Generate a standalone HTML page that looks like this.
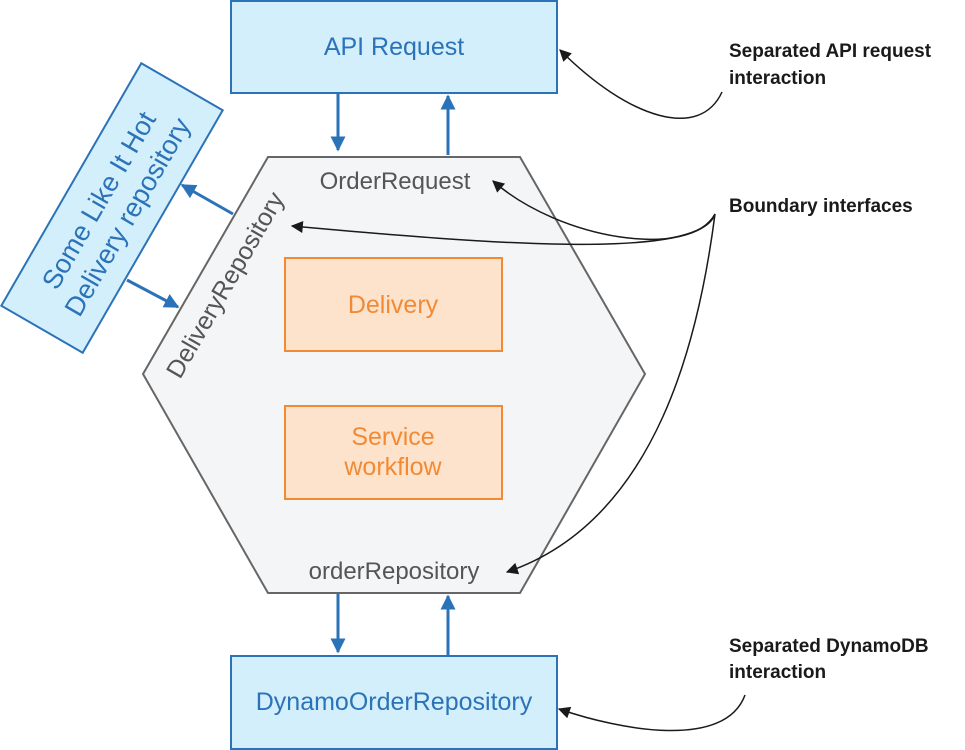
<!DOCTYPE html>
<html><head><meta charset="utf-8"><style>
body{margin:0;background:#fff}
svg{display:block}
.b{font-family:"Liberation Sans",sans-serif;fill:#2b73b8;font-size:25px}
.g{font-family:"Liberation Sans",sans-serif;fill:#555;font-size:24px}
.o{font-family:"Liberation Sans",sans-serif;fill:#f28a35;font-size:25px}
.n{font-family:"Liberation Sans Narrow","Liberation Sans",sans-serif;fill:#1a1a1a;font-size:19px;font-weight:bold}
</style></head><body>
<svg width="965" height="750" viewBox="0 0 965 750" xmlns="http://www.w3.org/2000/svg">
<defs>
<marker id="ab" viewBox="0 0 10 10" refX="9" refY="5" markerWidth="5" markerHeight="5" orient="auto"><path d="M0,0L10,5L0,10z" fill="#2b73b8"/></marker>
<marker id="ak" viewBox="0 0 10 10" refX="9" refY="5" markerWidth="14" markerHeight="12" markerUnits="userSpaceOnUse" orient="auto"><path d="M0,0L10,5L0,10z" fill="#1a1a1a"/></marker>
</defs>
<polygon points="268,157 520,157 645,374 520,593 268,593 143,374" fill="#f4f5f7" stroke="#666" stroke-width="2"/>
<rect x="231" y="1" width="326" height="92" fill="#d4effc" stroke="#2b73b8" stroke-width="2"/>
<text class="b" x="394" y="55" text-anchor="middle">API Request</text>
<rect x="231" y="656" width="326" height="93" fill="#d4effc" stroke="#2b73b8" stroke-width="2"/>
<text class="b" x="394" y="710" text-anchor="middle">DynamoOrderRepository</text>
<g transform="translate(112,208) rotate(-60)">
<rect x="-140" y="-47" width="280" height="94" fill="#d4effc" stroke="#2b73b8" stroke-width="2"/>
<text class="b" x="0" y="-6" text-anchor="middle" style="font-size:27px">Some Like It Hot</text>
<text class="b" x="0" y="27" text-anchor="middle" style="font-size:27px">Delivery repository</text>
</g>
<rect x="285" y="258" width="217" height="93" fill="#fde3cc" stroke="#f28a35" stroke-width="2"/>
<text class="o" x="393" y="313" text-anchor="middle">Delivery</text>
<rect x="285" y="406" width="217" height="93" fill="#fde3cc" stroke="#f28a35" stroke-width="2"/>
<text class="o" x="393" y="445" text-anchor="middle">Service</text>
<text class="o" x="393" y="475" text-anchor="middle">workflow</text>
<text class="g" x="395" y="189" text-anchor="middle">OrderRequest</text>
<text class="g" x="394" y="579" text-anchor="middle">orderRepository</text>
<text class="g" transform="translate(180,380) rotate(-60)" style="font-size:25px">DeliveryRepository</text>
<g stroke="#2b73b8" stroke-width="3" fill="none">
<line x1="338" y1="94" x2="338" y2="150" marker-end="url(#ab)"/>
<line x1="448" y1="155" x2="448" y2="96" marker-end="url(#ab)"/>
<line x1="338" y1="594" x2="338" y2="652" marker-end="url(#ab)"/>
<line x1="448" y1="655" x2="448" y2="596" marker-end="url(#ab)"/>
<line x1="233" y1="214" x2="182" y2="185" marker-end="url(#ab)"/>
<line x1="127" y1="280" x2="178" y2="307" marker-end="url(#ab)"/>
</g>
<g stroke="#1a1a1a" stroke-width="1.5" fill="none">
<path d="M722,92 C700,140 630,120 560,50" marker-end="url(#ak)"/>
<path d="M715,214 C690,260 560,240 493,181" marker-end="url(#ak)"/>
<path d="M715,214 C700,260 500,245 292,226" marker-end="url(#ak)"/>
<path d="M715,214 C700,330 660,520 507,572" marker-end="url(#ak)"/>
<path d="M745,695 C725,750 620,730 559,709" marker-end="url(#ak)"/>
</g>
<text class="n" x="729" y="57">Separated API request</text>
<text class="n" x="729" y="84">interaction</text>
<text class="n" x="729" y="212">Boundary interfaces</text>
<text class="n" x="729" y="652">Separated DynamoDB</text>
<text class="n" x="729" y="678">interaction</text>
</svg>
</body></html>
